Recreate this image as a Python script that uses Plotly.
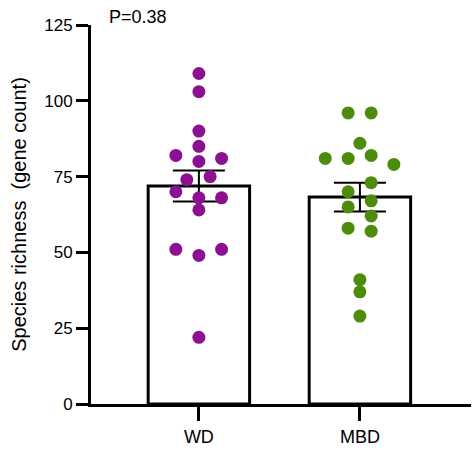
import numpy as np
import plotly.graph_objects as go

categories = ["WD", "MBD"]
wd_values = [109, 103, 90, 85, 82, 80, 81, 74, 75, 70, 68, 68, 64, 51, 49, 51, 22]
mbd_values = [96, 96, 86, 81, 81, 82, 79, 73, 70, 67, 65, 62, 58, 57, 41, 37, 29]
# horizontal swarm offsets (in category units)
wd_jitter = [0, 0, 0, 0, -0.143, 0, 0.141, -0.075, 0.07, -0.143, 0, 0.141, 0, -0.143, 0, 0.141, 0]
mbd_jitter = [-0.073, 0.07, 0, -0.215, -0.073, 0.07, 0.211, 0.07, -0.073, 0.07, -0.073, 0.07, -0.073, 0.07, 0, 0, 0]
colors = ["#8C1190", "#4D8C0B"]
p_text = "P=0.38"
y_ticks = [0, 25, 50, 75, 100, 125]

groups = [wd_values, mbd_values]
jitters = [wd_jitter, mbd_jitter]
means = [float(np.mean(g)) for g in groups]
sems = [float(np.std(g, ddof=1) / np.sqrt(len(g))) for g in groups]
xpos = list(range(len(categories)))

FONT = "Liberation Sans, Arial, sans-serif"

fig = go.Figure()
fig.add_trace(go.Bar(
    x=xpos, y=means, width=0.63,
    marker=dict(color="white", line=dict(color="black", width=3)),
    showlegend=False, hoverinfo="skip",
))
fig.add_trace(go.Scatter(
    x=xpos, y=means, mode="markers",
    marker=dict(size=1, color="rgba(0,0,0,0)"),
    error_y=dict(type="data", array=sems, visible=True, color="black", thickness=2, width=26),
    showlegend=False, hoverinfo="skip",
))
for i, (vals, jit) in enumerate(zip(groups, jitters)):
    fig.add_trace(go.Scatter(
        x=[xpos[i] + j for j in jit], y=vals, mode="markers",
        marker=dict(size=13, color=colors[i], line=dict(width=0)),
        showlegend=False,
    ))

fig.add_annotation(
    text=p_text, xref="paper", yref="paper", x=0.042, y=1.022,
    xanchor="left", yanchor="middle", showarrow=False,
    font=dict(family=FONT, size=18, color="black"),
)

fig.update_layout(
    width=474, height=456,
    margin=dict(l=91, r=3, t=25, b=52),
    paper_bgcolor="white", plot_bgcolor="white",
    font=dict(family=FONT, size=17, color="black"),
    xaxis=dict(
        range=[-0.67, 1.69], tickmode="array", tickvals=xpos, ticktext=categories,
        showgrid=False, zeroline=False, showline=True, linecolor="black", linewidth=3,
        ticks="outside", ticklen=14, tickwidth=3, tickcolor="black",
        tickfont=dict(family=FONT, size=18),
    ),
    yaxis=dict(
        range=[0, 125], tickmode="array", tickvals=y_ticks,
        showgrid=False, zeroline=False, showline=True, linecolor="black", linewidth=3,
        ticks="outside", ticklen=12, tickwidth=3, tickcolor="black",
        tickfont=dict(family=FONT, size=17),
        title=dict(text="Species richness  (gene count)", font=dict(family=FONT, size=20), standoff=13),
    ),
)

fig.write_html("out.html")
